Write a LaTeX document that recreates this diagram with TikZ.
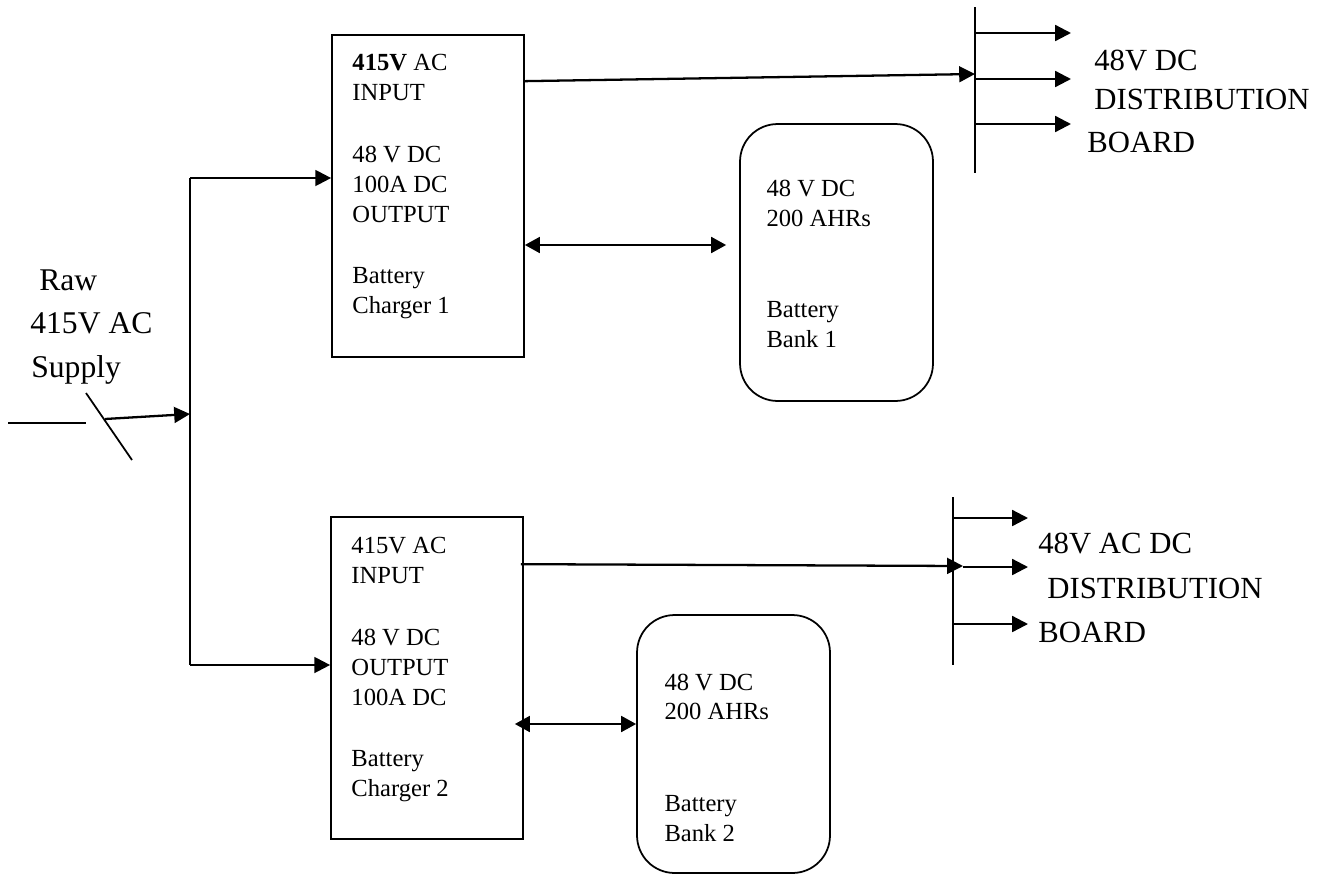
\documentclass[tikz,border=0pt]{standalone}
\usepackage{fontspec}
\setmainfont{Liberation Serif}
\usepackage{tikz}
\usetikzlibrary{arrows.meta,positioning,calc}

\begin{document}
\begin{tikzpicture}[
    x=0.02cm, y=-0.02cm,
    charger/.style={draw, line width=1pt, minimum width=3.84cm, minimum height=6.44cm, inner sep=0pt},
    bank/.style={draw, rounded corners=0.75cm, line width=1pt, minimum width=3.86cm, inner sep=0pt},
    boxtext/.style={anchor=base west, align=left, inner sep=0pt, font=\fontsize{14}{17}\selectfont},
    bigtext/.style={anchor=base west, inner sep=0pt, font=\fontsize{18}{22}\selectfont},
    disttext/.style={anchor=base west, inner sep=0pt, font=\fontsize{17.5}{21}\selectfont},
    bus/.style={line width=1pt},
    arrow/.style={-{Triangle[length=9pt,width=9pt]}, line width=1.3pt},
    dblarrow/.style={{Triangle[length=8.5pt,width=9pt]}-{Triangle[length=8.5pt,width=9pt]}, line width=1.3pt}
]
\useasboundingbox (0,0) rectangle (1335,876);

% Chargers and battery banks
\node[charger] (ch1) at (428,196) {};
\node[charger] (ch2) at (427,678) {};
\node[bank, minimum height=5.54cm] (bb1) at (836.5,262.5) {};
\node[bank, minimum height=5.16cm] (bb2) at (733.5,744) {};

% texts sit on the baseline of their last line
\node[boxtext] (ch1txt) at ($(ch1.north west)+(21,279)$)
    {\textbf{415V} AC\\INPUT\\[18.5pt]48 V DC\\100A DC\\OUTPUT\\[17.5pt]Battery\\Charger 1};
\node[boxtext] (ch2txt) at ($(ch2.north west)+(21,280)$)
    {415V AC\\INPUT\\[18.5pt]48 V DC\\OUTPUT\\100A DC\\[17.5pt]Battery\\Charger 2};
\node[boxtext] (bb1txt) at ($(bb1.north west)+(27,224)$)
    {48 V DC\\200 AHRs\\[34.5pt]Battery\\Bank 1};
\node[boxtext] (bb2txt) at ($(bb2.north west)+(28,227)$)
    {48 V DC\\200 AHRs\\[35pt]Battery\\Bank 2};

% Raw supply
\node[bigtext] (raw1) at (39,290) {Raw};
\node[bigtext] (raw2) at (30,333) {415V AC};
\node[bigtext] (raw3) at (31,377) {Supply};

\coordinate (wl) at (8,423);
\coordinate (wr) at (86,423);
\coordinate (sa) at (86,393);
\coordinate (sb) at (132,460);
\coordinate (ws) at (105,419);
\coordinate (bt) at (190,178);
\coordinate (bm) at (190,414);
\coordinate (bb) at (190,665);

\draw[bus] (wl) -- (wr);
\draw[bus] (sa) -- (sb);
\draw[arrow] (ws) -- (bm);
\draw[bus] (bt) -- (bb);
\draw[arrow] (bt) -- (bt -| ch1.west);
\draw[arrow] (bb) -- (bb -| ch2.west);

% Distribution board 1
\coordinate (d1t) at (975,7);
\coordinate (d1b) at (975,173);
\coordinate (in1) at (975,74);
\draw[bus] (d1t) -- (d1b);
\draw[arrow] ($(ch1.north east)+(0,47)$) -- (in1);
\foreach \y [count=\i] in {33,79,124} {
  \coordinate (p1\i) at (975,\y);
  \coordinate (q1\i) at (1071,\y);
  \draw[arrow] (p1\i) -- (q1\i);
}
\node[disttext] (dist1a) at (1094,70) {48V DC};
\node[disttext] (dist1b) at (1094,109) {DISTRIBUTION};
\node[disttext] (dist1c) at (1087,152) {BOARD};

% Distribution board 2
\coordinate (d2t) at (953,497);
\coordinate (d2b) at (953,665);
\coordinate (in2) at (963,566);
\draw[bus] (d2t) -- (d2b);
\draw[arrow] ($(ch2.north east)+(-3,48)$) -- (in2);
\foreach \y/\x [count=\i] in {518/953,567/963,624/953} {
  \coordinate (p2\i) at (\x,\y);
  \coordinate (q2\i) at (1028,\y);
  \draw[arrow] (p2\i) -- (q2\i);
}
\node[disttext] (dist2a) at (1038,553) {48V AC DC};
\node[disttext] (dist2b) at (1047,598) {DISTRIBUTION};
\node[disttext] (dist2c) at (1038,642) {BOARD};

% Charger to battery links
\coordinate (c1) at ($(ch1.east)+(0,49)$);
\coordinate (c2) at ($(ch2.east)+(-9,46)$);
\draw[dblarrow] (c1) -- ($(c1 -| bb1.west)+(-13,0)$);
\draw[dblarrow] (c2) -- (c2 -| bb2.west);

\end{tikzpicture}
\end{document}
